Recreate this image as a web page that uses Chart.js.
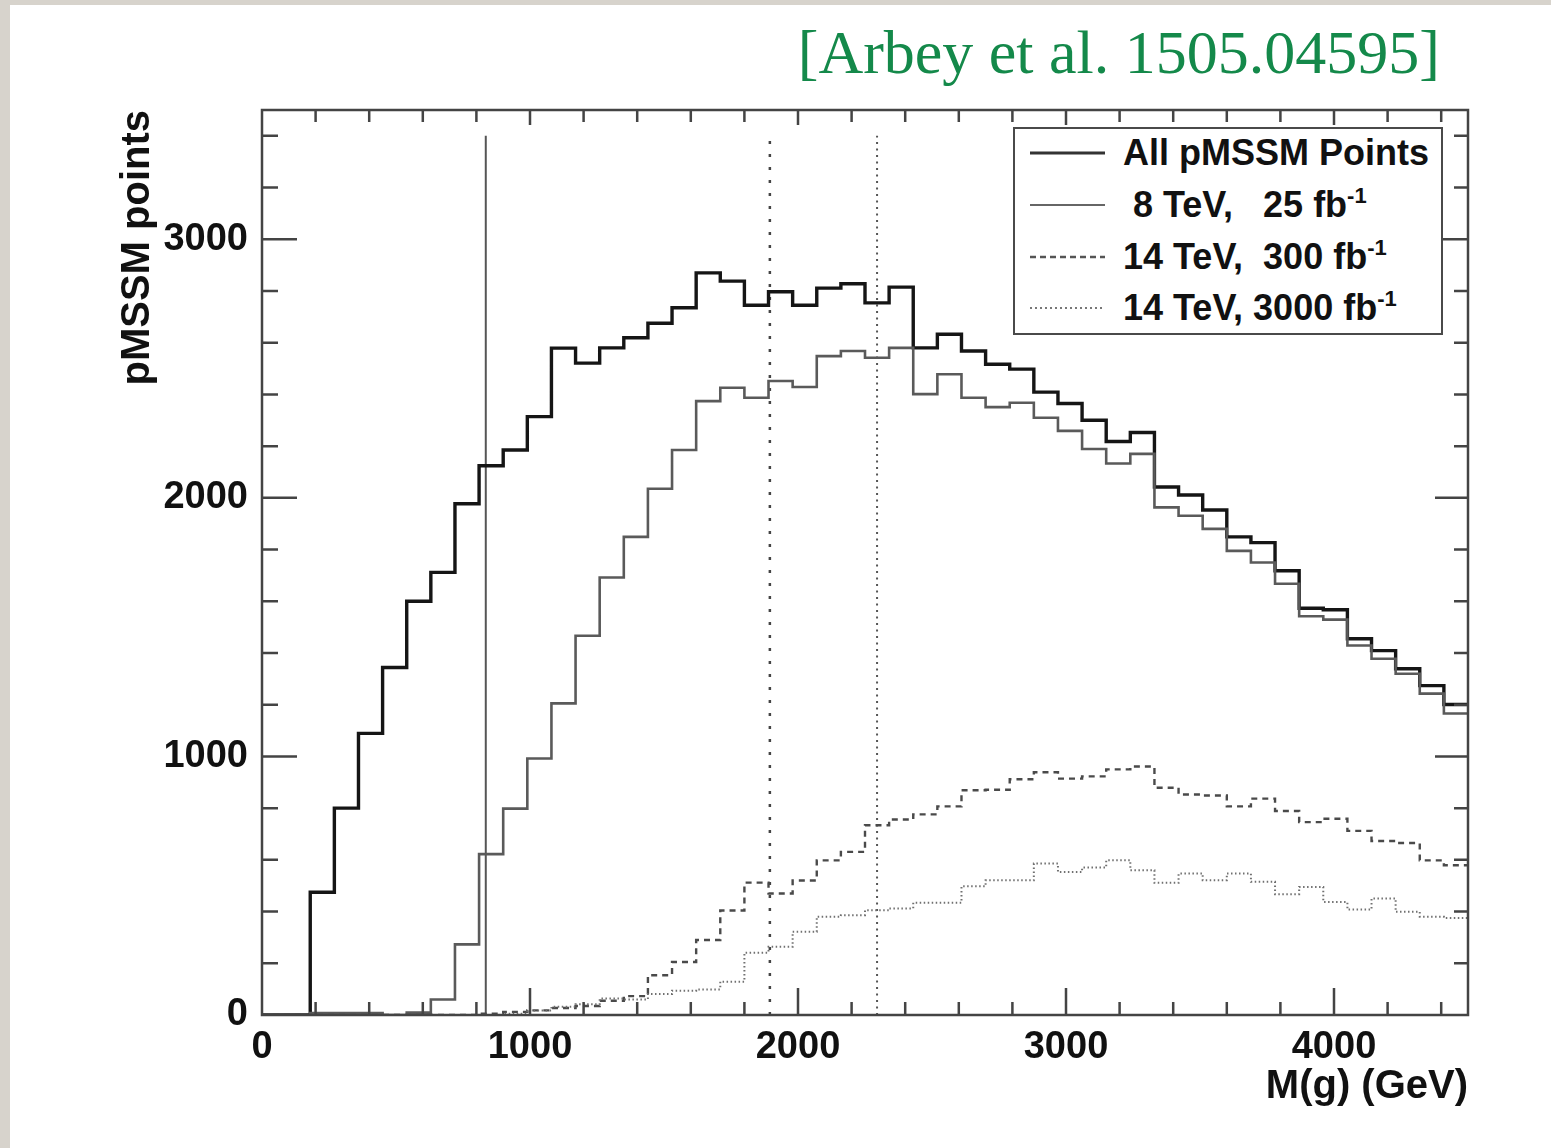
<!DOCTYPE html>
<html>
<head>
<meta charset="utf-8">
<script src="https://cdn.jsdelivr.net/npm/chart.js@4.4.1/dist/chart.umd.min.js"></script>
<style>
  html, body { margin: 0; padding: 0; }
  body { width: 1551px; height: 1148px; background: #d7d3cc; position: relative; overflow: hidden; }
  #sheet { position: absolute; left: 10px; top: 5px; right: 0; bottom: 0; background: #fff; }
  #chart { position: absolute; left: 0; top: 0; }
  #cite { position: absolute; right: 111px; top: 21px; font: 62px/62px "Liberation Serif", "DejaVu Serif", serif; color: #14894a; white-space: nowrap; }
  #legend { position: absolute; left: 1013px; top: 127px; width: 426px; height: 204px; border: 2px solid #4a4a4a; background: #fff;
            font: bold 36px/52px "Liberation Sans", Arial, sans-serif; color: #111; }
  .row { position: absolute; left: 0; width: 100%; height: 52px; white-space: pre; }
  .row svg { position: absolute; left: 15px; top: 0; }
  .row span { position: absolute; left: 108px; top: 0; }
  sup { font-size: 22px; line-height: 0; vertical-align: 14px; }
</style>
</head>
<body>
<div id="sheet"></div>
<canvas id="chart" width="1551" height="1148"></canvas>
<div id="cite">[Arbey et al. 1505.04595]</div>
<div id="legend">
  <div class="row" style="top:-2px"><svg width="75" height="52"><line x1="0" y1="26" x2="75" y2="26" stroke="#333" stroke-width="3"/></svg><span>All pMSSM Points</span></div>
  <div class="row" style="top:50px"><svg width="75" height="52"><line x1="0" y1="26" x2="75" y2="26" stroke="#666" stroke-width="2"/></svg><span> 8 TeV,   25 fb<sup>-1</sup></span></div>
  <div class="row" style="top:102px"><svg width="75" height="52"><line x1="0" y1="26" x2="75" y2="26" stroke="#555" stroke-width="2.5" stroke-dasharray="6 4"/></svg><span>14 TeV,  300 fb<sup>-1</sup></span></div>
  <div class="row" style="top:153px"><svg width="75" height="52"><line x1="0" y1="26" x2="75" y2="26" stroke="#777" stroke-width="2" stroke-dasharray="2 3"/></svg><span>14 TeV, 3000 fb<sup>-1</sup></span></div>
</div>
<script>
// histogram: 50 bins of 90 GeV from 0 to 4500
const binWidth = 90;
const allPoints = [0, 0, 475, 800, 1089, 1344, 1600, 1712, 1977, 2124,
  2185, 2314, 2579, 2521, 2580, 2619, 2675, 2735, 2870, 2838,
  2745, 2797, 2745, 2811, 2828, 2754, 2815, 2580, 2633, 2568,
  2517, 2498, 2409, 2365, 2300, 2218, 2253, 2042, 2011, 1953,
  1849, 1827, 1718, 1573, 1567, 1455, 1409, 1339, 1274, 1201];
const tev8 = [0, 0, 8, 8, 8, 0, 9, 60, 273, 622,
  798, 992, 1205, 1467, 1692, 1849, 2035, 2185, 2374, 2426,
  2387, 2452, 2429, 2548, 2568, 2542, 2580, 2401, 2478, 2387,
  2351, 2368, 2310, 2259, 2189, 2133, 2170, 1963, 1931, 1880,
  1795, 1750, 1668, 1542, 1529, 1429, 1378, 1320, 1243, 1166];
const tev14_300 = [0, 0, 0, 0, 0, 0, 0, 0, 0, 5,
  12, 18, 27, 35, 55, 73, 154, 205, 290, 404,
  512, 470, 520, 598, 631, 734, 756, 776, 807, 869,
  871, 912, 939, 914, 923, 950, 961, 879, 853, 849,
  807, 837, 789, 746, 759, 712, 673, 665, 598, 579];
const tev14_3000 = [0, 0, 0, 0, 0, 0, 0, 0, 0, 0,
  5, 17, 32, 42, 64, 60, 81, 94, 99, 129,
  241, 264, 322, 380, 386, 405, 412, 434, 434, 498,
  521, 521, 586, 553, 570, 598, 560, 511, 547, 521,
  547, 515, 467, 495, 437, 408, 451, 399, 380, 375];

// mass limits (vertical lines)
const limit8 = 835, limit300 = 1895, limit3000 = 2295;
const limitTop = 3400;

const xTicks = [0, 1000, 2000, 3000, 4000];
const yTicks = [0, 1000, 2000, 3000];
const xMax = 4500, yMax = 3500;

function steps(vals) {
  const pts = vals.map((v, i) => ({ x: i * binWidth, y: v }));
  pts.push({ x: vals.length * binWidth, y: vals[vals.length - 1] });
  return pts;
}
function vline(m) {
  return [{ x: m, y: 0 }, { x: m, y: limitTop }];
}

const base = { pointRadius: 0, fill: false, tension: 0, borderJoinStyle: 'miter' };

// ROOT style frame with inward ticks on all sides
const framePlugin = {
  id: 'rootFrame',
  afterDatasetsDraw(chart) {
    const { ctx, chartArea: a, scales: { x, y } } = chart;
    ctx.save();
    ctx.strokeStyle = '#444';
    ctx.lineWidth = 2.5;
    ctx.beginPath();
    for (let v = 200; v < xMax; v += 200) {
      const px = x.getPixelForValue(v);
      const major = v % 1000 === 0;
      ctx.moveTo(px, a.bottom); ctx.lineTo(px, a.bottom - (major ? 27 : 13));
      ctx.moveTo(px, a.top); ctx.lineTo(px, a.top + (major ? 15 : 12));
    }
    for (let v = 200; v < yMax; v += 200) {
      const py = y.getPixelForValue(v);
      const major = v % 1000 === 0;
      ctx.moveTo(a.left, py); ctx.lineTo(a.left + (major ? 35 : 16), py);
      ctx.moveTo(a.right, py); ctx.lineTo(a.right - (major ? 33 : 14), py);
    }
    ctx.stroke();
    ctx.strokeRect(a.left, a.top, a.right - a.left, a.bottom - a.top);
    ctx.restore();
  }
};

const tickFont = { family: '"Liberation Sans", Arial, sans-serif', size: 38, weight: 'bold' };
const titleFont = { family: '"Liberation Sans", Arial, sans-serif', size: 40, weight: 'bold' };

new Chart(document.getElementById('chart'), {
  type: 'line',
  data: {
    datasets: [
      { ...base, data: steps(tev14_3000), stepped: true, borderColor: '#707070', borderWidth: 2, borderDash: [1.5, 2.5] },
      { ...base, data: steps(tev14_300), stepped: true, borderColor: '#4a4a4a', borderWidth: 2.4, borderDash: [6, 5] },
      { ...base, data: steps(tev8), stepped: true, borderColor: '#5a5a5a', borderWidth: 2.6 },
      { ...base, data: steps(allPoints), stepped: true, borderColor: '#151515', borderWidth: 3.4 },
      { ...base, data: vline(limit8), borderColor: '#555', borderWidth: 2 },
      { ...base, data: vline(limit300), borderColor: '#444', borderWidth: 2.5, borderDash: [3, 10] },
      { ...base, data: vline(limit3000), borderColor: '#555', borderWidth: 2, borderDash: [2, 4.5] }
    ]
  },
  options: {
    responsive: false,
    animation: false,
    devicePixelRatio: 1,
    layout: { padding: { left: 0, right: 83, top: 110, bottom: 0 } },
    plugins: { legend: { display: false }, tooltip: { enabled: false } },
    scales: {
      x: {
        type: 'linear', min: 0, max: xMax,
        grid: { display: false }, border: { display: false },
        afterBuildTicks: s => { s.ticks = xTicks.map(v => ({ value: v })); },
        afterFit: s => { s.height = 133; },
        ticks: { font: tickFont, color: '#111', padding: 2, maxRotation: 0, callback: v => String(v) },
        title: { display: true, text: 'M(g) (GeV)', align: 'end', font: titleFont, color: '#111', padding: { top: 0, bottom: 37 } }
      },
      y: {
        type: 'linear', min: 0, max: yMax,
        grid: { display: false }, border: { display: false },
        afterBuildTicks: s => { s.ticks = yTicks.map(v => ({ value: v })); },
        afterFit: s => { s.width = 262; },
        ticks: { font: tickFont, color: '#111', padding: 6, callback: v => String(v) },
        title: { display: true, text: 'pMSSM points', align: 'end', font: titleFont, color: '#111', padding: { top: 114, bottom: 0 } }
      }
    }
  },
  plugins: [framePlugin]
});
</script>
</body>
</html>
